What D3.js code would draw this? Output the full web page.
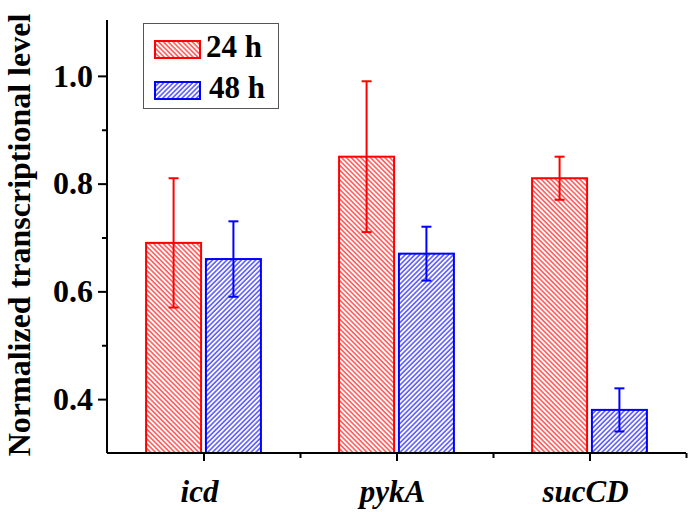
<!DOCTYPE html>
<html><head><meta charset="utf-8">
<script src="https://cdn.jsdelivr.net/npm/d3@7"></script>
<style>body{margin:0;background:#fff}svg{display:block}text{font-family:"Liberation Serif","Times New Roman",serif;font-weight:bold}</style>
</head><body><svg id="c" width="688" height="512"></svg>
<script>
const categories = ["icd", "pykA", "sucCD"];
const seriesNames = ["24 h", "48 h"];
const values24 = [0.69, 0.85, 0.81];
const errors24 = [0.12, 0.14, 0.04];
const values48 = [0.66, 0.67, 0.38];
const errors48 = [0.07, 0.05, 0.04];
const yTicks = [0.4, 0.6, 0.8, 1.0];
const yMinorTicks = [0.5, 0.7, 0.9];
const colors = ["#ff0000", "#0000ff"];

const svg = d3.select("#c");
const x = d3.scaleLinear().domain([0.5, 3.5]).range([107, 686]);
const y = d3.scaleLinear().domain([0.3, 1.1]).range([453, 22]);

const defs = svg.append("defs");
[["hatchR", colors[0], -45], ["hatchB", colors[1], 45]].forEach(([id, col, rot]) => {
  const p = defs.append("pattern").attr("id", id).attr("patternUnits", "userSpaceOnUse")
    .attr("width", 3.4).attr("height", 3.4).attr("patternTransform", `rotate(${rot})`);
  p.append("line").attr("x1", 0.9).attr("x2", 0.9).attr("y1", 0).attr("y2", 3.4)
    .attr("stroke", col).attr("stroke-width", 1.2).attr("stroke-opacity", 0.85);
});

const series = [
  {vals: values24, errs: errors24, col: colors[0], fill: "url(#hatchR)", off: -0.155},
  {vals: values48, errs: errors48, col: colors[1], fill: "url(#hatchB)", off: 0.155}
];
const bw = 0.285;

series.forEach(s => {
  const g = svg.append("g");
  categories.forEach((c, i) => {
    const cx = i + 1 + s.off;
    g.append("rect")
      .attr("x", x(cx - bw / 2)).attr("width", x(cx + bw / 2) - x(cx - bw / 2))
      .attr("y", y(s.vals[i])).attr("height", y(0.3) - y(s.vals[i]))
      .attr("fill", s.fill).attr("stroke", s.col).attr("stroke-width", 2);
    const px = x(cx);
    g.append("line").attr("x1", px).attr("x2", px)
      .attr("y1", y(s.vals[i] - s.errs[i])).attr("y2", y(s.vals[i] + s.errs[i]))
      .attr("stroke", s.col).attr("stroke-width", 2);
    [s.vals[i] - s.errs[i], s.vals[i] + s.errs[i]].forEach(v => {
      g.append("line").attr("x1", px - 5).attr("x2", px + 5)
        .attr("y1", y(v)).attr("y2", y(v)).attr("stroke", s.col).attr("stroke-width", 2);
    });
  });
});

// Y axis
const yAx = svg.append("g").attr("transform", "translate(107,0)")
  .call(d3.axisLeft(y).tickValues(yTicks).tickSize(9).tickPadding(5).tickFormat(d3.format(".1f")));
yAx.select(".domain").attr("d", `M0,${y(1.1) - 2}V${y(0.3)}`).attr("stroke-width", 2);
yAx.selectAll(".tick line").attr("stroke-width", 2);
yAx.selectAll(".tick text").attr("font-size", 32).attr("font-family", '"Liberation Serif",serif').attr("font-weight", "bold").attr("fill", "#000");
svg.append("g").attr("transform", "translate(107,0)")
  .call(d3.axisLeft(y).tickValues(yMinorTicks).tickSize(5).tickFormat(""))
  .call(g => g.select(".domain").remove())
  .selectAll("line").attr("stroke-width", 2);

// X axis
const xAx = svg.append("g").attr("transform", `translate(0,${y(0.3)})`)
  .call(d3.axisBottom(x).tickValues([1, 2, 3]).tickSize(8).tickFormat(""));
xAx.select(".domain").attr("d", `M${x(0.5)},0H${x(3.5)}`).attr("stroke-width", 2);
xAx.selectAll("line").attr("stroke-width", 2);
svg.append("g").attr("transform", `translate(0,${y(0.3)})`)
  .call(d3.axisBottom(x).tickValues([1.5, 2.5, 3.5]).tickSize(5).tickFormat(""))
  .call(g => g.select(".domain").remove())
  .selectAll("line").attr("stroke-width", 2);

svg.append("g").selectAll("text").data(categories).join("text")
  .attr("x", (d, i) => x(i + 1) - 4).attr("y", 502)
  .attr("text-anchor", "middle").attr("font-size", 31).attr("font-style", "italic")
  .text(d => d);

// Y title
svg.append("text").attr("transform", `translate(29.5,${235}) rotate(-90)`)
  .attr("text-anchor", "middle").attr("font-size", 32).text("Normalized transcriptional level");

// Legend
const lg = svg.append("g");
lg.append("rect").attr("x", 143.5).attr("y", 23.5).attr("width", 135).attr("height", 85)
  .attr("fill", "#fff").attr("stroke", "#555").attr("stroke-width", 1);
series.forEach((s, i) => {
  const yy = [41, 82][i];
  lg.append("rect").attr("x", 155).attr("y", yy).attr("width", 45).attr("height", 17)
    .attr("fill", s.fill).attr("stroke", s.col).attr("stroke-width", 2);
  lg.append("text").attr("x", [206, 209][i]).attr("y", yy + 16).attr("font-size", 31)
    .text(seriesNames[i]);
});
</script></body></html>
